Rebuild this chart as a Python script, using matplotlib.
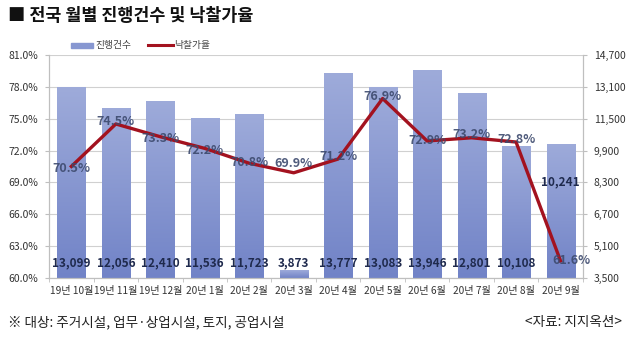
import matplotlib
matplotlib.use("Agg")
import matplotlib.pyplot as plt
import numpy as np

plt.rcParams['font.family'] = ['Noto Sans CJK KR', 'DejaVu Sans']

# data
months = ["19년 10월", "19년 11월", "19년 12월", "20년 1월", "20년 2월", "20년 3월",
          "20년 4월", "20년 5월", "20년 6월", "20년 7월", "20년 8월", "20년 9월"]
cases = [13099, 12056, 12410, 11536, 11723, 3873, 13777, 13083, 13946, 12801, 10108, 10241]
rate = [70.5, 74.5, 73.3, 72.2, 70.8, 69.9, 71.2, 76.9, 72.9, 73.2, 72.8, 61.6]
rate_ticks = [60, 63, 66, 69, 72, 75, 78, 81]
case_ticks = [3500, 5100, 6700, 8300, 9900, 11500, 13100, 14700]

bar_color = "#8797d1"
line_color = "#a3121f"
label_color = "#1f2a4d"
pct_color = "#3d4a6e"
axis_color = "#bfbfbf"

fig = plt.figure(figsize=(6.3, 3.46), dpi=100)
ax = fig.add_axes([0.078, 0.197, 0.847, 0.644])
ax2 = ax.twinx()

x = np.arange(len(months))

# bars on the count axis (shown on the right), filled with a soft vertical gradient
bars = ax.bar(x, cases, width=0.63, color="none", zorder=2)
grad = np.linspace(0, 1, 256).reshape(-1, 1)
cmap = matplotlib.colors.LinearSegmentedColormap.from_list("bar", ["#7183c7", "#9eabda"])
for b in bars:
    x0, w, h = b.get_x(), b.get_width(), b.get_height()
    im = ax.imshow(grad, cmap=cmap, aspect="auto", origin="lower",
                   extent=(x0, x0 + w, case_ticks[0], h), zorder=2)
    im.set_clip_path(b)
ax.set_ylim(case_ticks[0], case_ticks[-1])
ax.set_yticks(case_ticks)
ax.set_yticklabels([f"{v:,}" for v in case_ticks])
ax.yaxis.tick_right()
ax.set_xlim(-0.5, len(months) - 0.5)
ax.set_xticks(x)
ax.set_xticklabels(months)
ax.set_xticks(np.arange(-0.5, len(months)), minor=True)
ax.tick_params(axis="x", which="major", length=0, labelsize=7.3, pad=6, colors="#333333")
ax.tick_params(axis="x", which="minor", length=3, color=axis_color)
ax.tick_params(axis="y", length=3, color=axis_color, labelsize=7.5, labelcolor="#333333", pad=5)
ax.yaxis.grid(True, color="#d0d0d0", linewidth=0.8, zorder=0)
ax.set_axisbelow(True)

# count labels
for i, v in enumerate(cases):
    ypos = 4250 if i < 11 else 8350
    ax.text(i, ypos, f"{v:,}", ha="center", va="center", fontsize=8.5,
            fontweight="bold", color=label_color, zorder=3)

# line on the rate axis (shown on the left)
ax2.plot(x, rate, color=line_color, linewidth=2.4, zorder=4)
ax2.set_ylim(rate_ticks[0], rate_ticks[-1])
ax2.set_yticks(rate_ticks)
ax2.set_yticklabels([f"{v:.1f}%" for v in rate_ticks])
ax2.yaxis.tick_left()
ax2.tick_params(axis="y", length=3, color=axis_color, labelsize=7.5, labelcolor="#333333", pad=5)

offsets = [(0, -0.2), (0, 0.2), (0, -0.2), (0, -0.2), (0, 0.1), (0, 0.9),
           (0, 0.2), (0, 0.2), (0, 0.0), (0, 0.3), (0, 0.2), (0.25, 0.0)]
for i, v in enumerate(rate):
    dx, dy = offsets[i]
    ax2.text(i + dx, v + dy, f"{v:.1f}%", ha="center", va="center", fontsize=9,
             fontweight="bold", color=pct_color, alpha=0.9, zorder=5)

for a in (ax, ax2):
    a.spines["top"].set_visible(False)
    for s in ("left", "right", "bottom"):
        a.spines[s].set_color(axis_color)

# legend
fig.patches.append(plt.Rectangle((0.112, 0.862), 0.036, 0.014, transform=fig.transFigure,
                                 color=bar_color))
fig.text(0.151, 0.869, "진행건수", fontsize=7, color="#444444", va="center")
fig.lines.append(plt.Line2D([0.235, 0.275], [0.869, 0.869], transform=fig.transFigure,
                            color=line_color, linewidth=2.2))
fig.text(0.276, 0.869, "낙찰가율", fontsize=7, color="#444444", va="center")

# title and notes
fig.text(0.012, 0.955, "■ 전국 월별 진행건수 및 낙찰가율", fontsize=12.5,
         fontweight="bold", color="#111111", va="center")
fig.text(0.012, 0.068, "※ 대상: 주거시설, 업무·상업시설, 토지, 공업시설", fontsize=9.8,
         color="#222222", va="center")
fig.text(0.988, 0.068, "<자료: 지지옥션>", fontsize=9.8, color="#222222",
         va="center", ha="right")

fig.savefig("out.png", dpi=100)
